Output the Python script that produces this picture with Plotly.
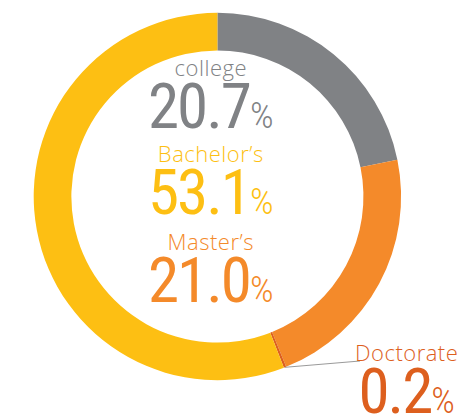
import math
import plotly.graph_objects as go

# Data
categories = ["college", "Master\u2019s", "Doctorate", "Bachelor\u2019s"]
shares = [20.7, 21.0, 0.2, 53.1]
colors = ["#808285", "#F48A2A", "#DD5F1E", "#FDBF13"]
label_colors = ["#808285", "#F48A2A", "#DD5F1E", "#FDBF13"]

W, H = 473, 420
cx, cy, R = 209.4, 188.5, 183.7  # donut centre / radius in px

fig = go.Figure(go.Pie(
    labels=categories,
    values=shares,
    marker=dict(colors=colors, line=dict(width=0)),
    hole=0.795,
    sort=False,
    direction="clockwise",
    rotation=0,
    textinfo="none",
    hoverinfo="label+value",
    domain=dict(x=[(cx - R) / W, (cx + R) / W],
                y=[(H - cy - R) / H, (H - cy + R) / H]),
    showlegend=False,
))

NUM_FONT = "Roboto Condensed, Liberation Sans Narrow, sans-serif"
LABEL_STYLE = "font-family:Open Sans, Lato, sans-serif;font-weight:300;font-size:22px;letter-spacing:0.5px"


def px(x, y):
    return x / W, 1 - y / H


def add_label(name, value, color, x, y):
    xn, yn = px(x, y)
    text = (f"<span style='{LABEL_STYLE}'>{name}</span><br>"
            f"<span style='font-size:63px;letter-spacing:-2px'>{value:.1f}</span>"
            f"<span style='font-size:37px;font-weight:300'>%</span>")
    fig.add_annotation(x=xn, y=yn, xref="paper", yref="paper", text=text,
                       showarrow=False, xanchor="center", yanchor="middle", align="center",
                       font=dict(family=NUM_FONT, size=40, color=color))


add_label(categories[0], shares[0], label_colors[0], 203, 89)
add_label(categories[3], shares[3], label_colors[3], 203, 175)
add_label(categories[1], shares[1], label_colors[1], 203, 263)
add_label(categories[2], shares[2], label_colors[2], 398, 374)

# leader line from the Doctorate slice to its label
total = sum(shares)
mid = (shares[0] + shares[1] + shares[2] / 2) / total * 2 * math.pi
sx = cx + R * math.sin(mid)
sy = cy - R * math.cos(mid)
x0, y0 = px(sx, sy)
x1, y1 = px(352, 353)
fig.add_shape(type="line", xref="paper", yref="paper", x0=x0, y0=y0, x1=x1, y1=y1,
              line=dict(color="#9a9a9a", width=1))

fig.update_layout(width=W, height=H, margin=dict(l=0, r=0, t=0, b=0),
                  paper_bgcolor="white", plot_bgcolor="white")

fig.write_html("out.html")
